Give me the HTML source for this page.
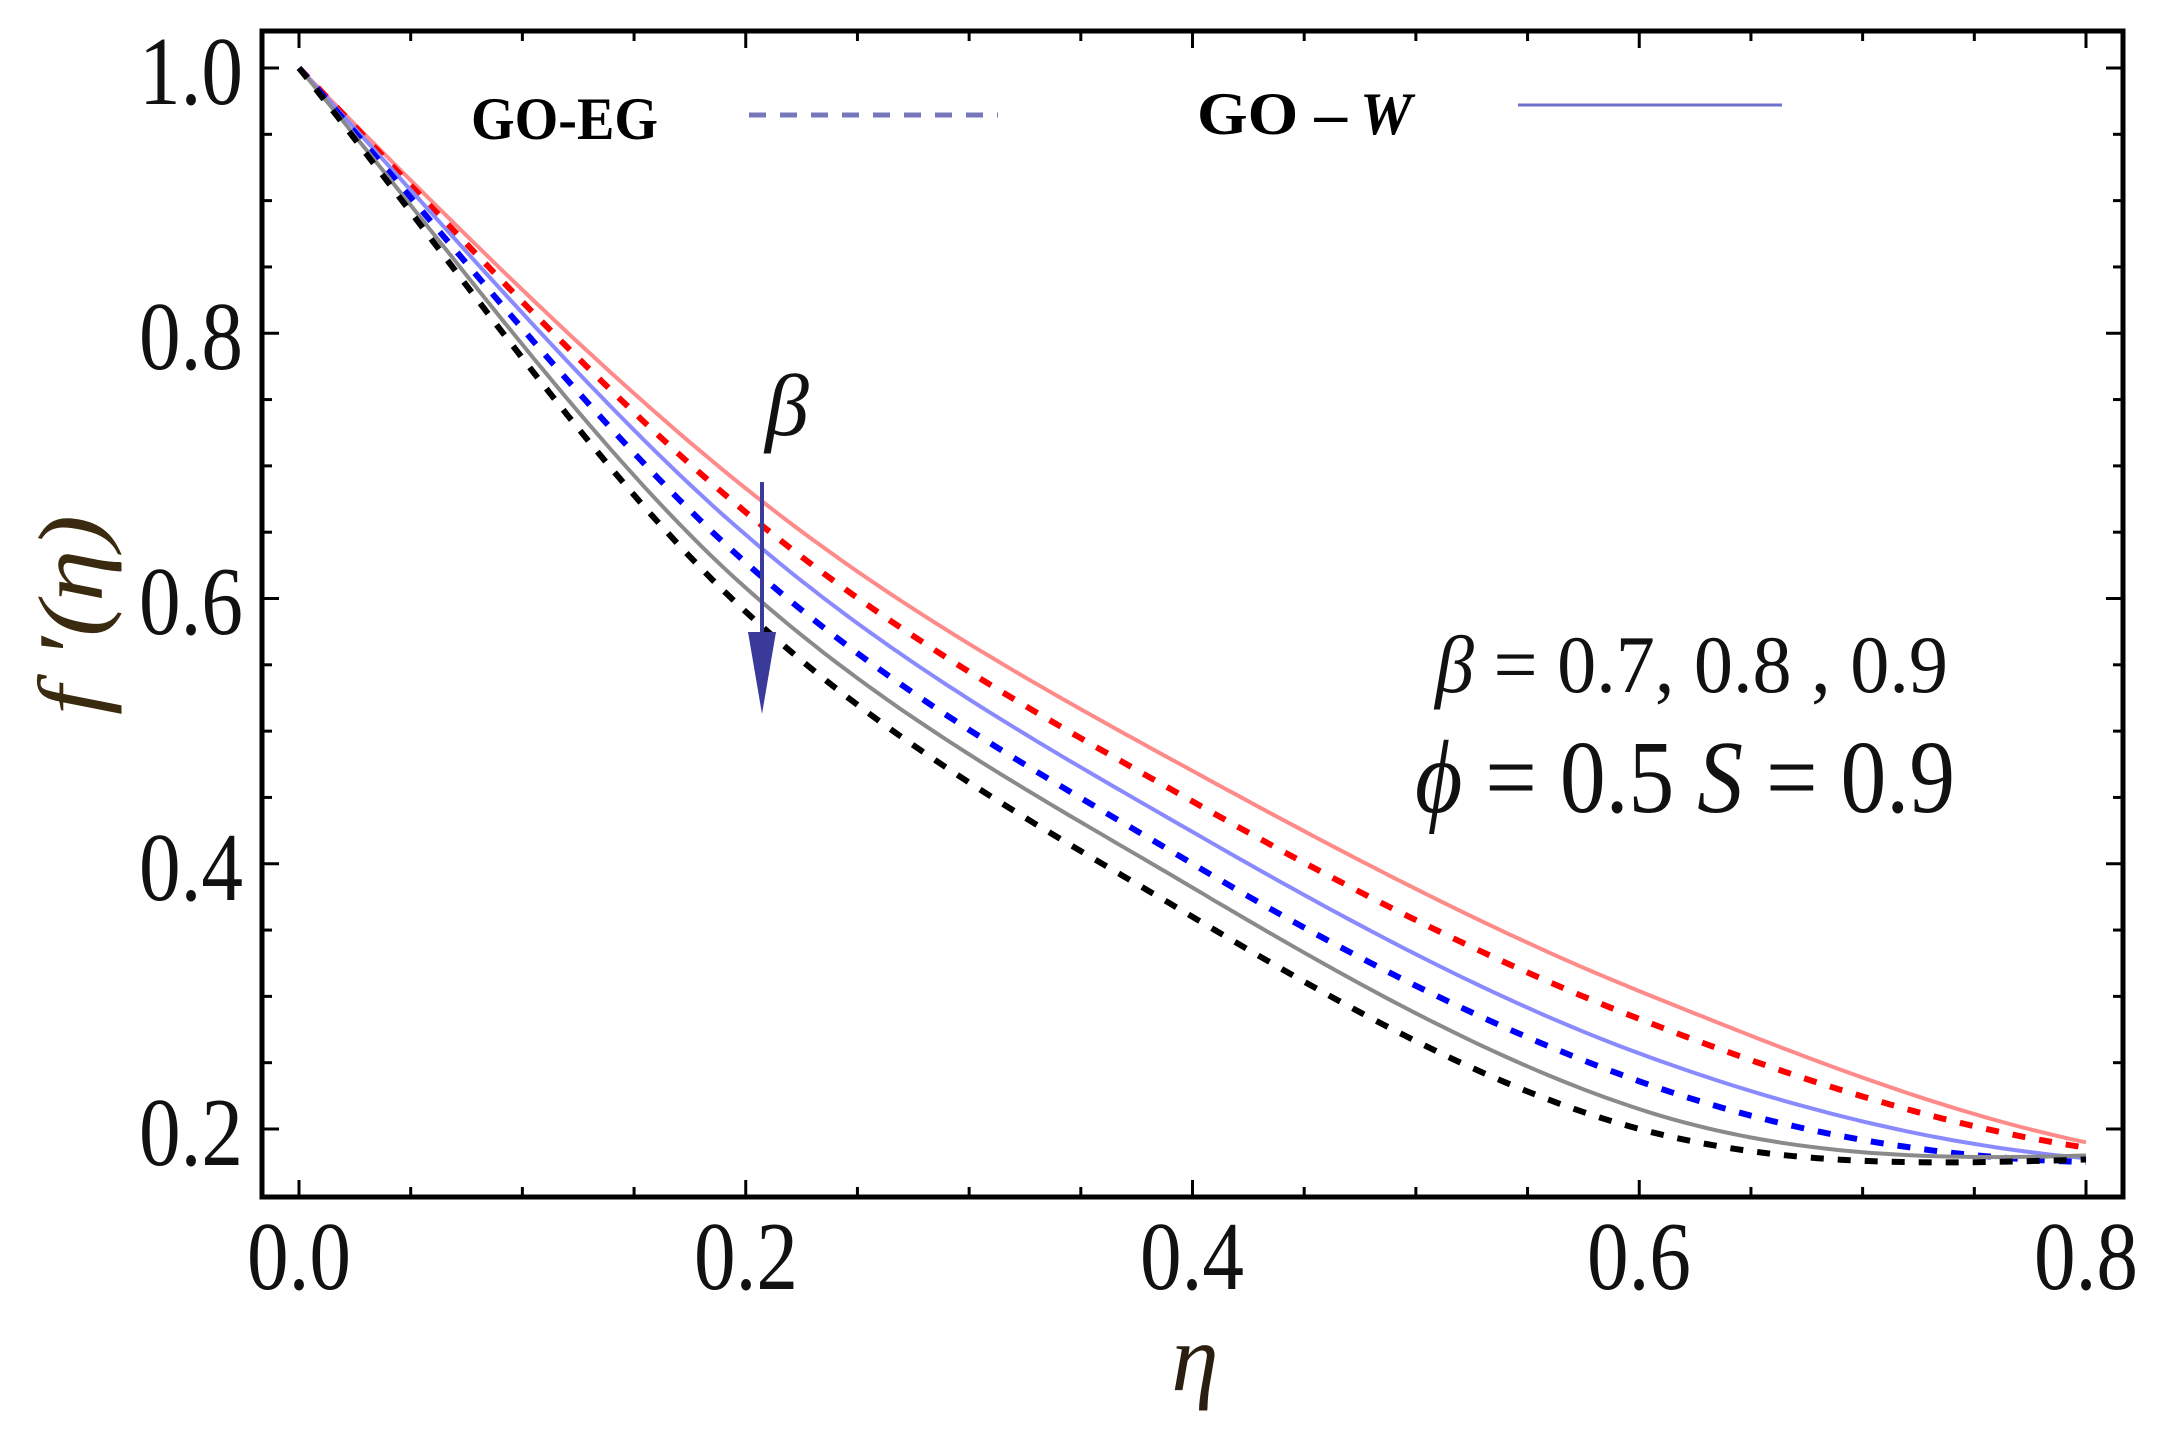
<!DOCTYPE html>
<html><head><meta charset="utf-8"><style>
html,body{margin:0;padding:0;background:#fff;}
svg{display:block;}
text{font-family:"Liberation Serif",serif;}
</style></head><body>
<svg id="s" width="2163" height="1447" viewBox="0 0 2163 1447" xmlns="http://www.w3.org/2000/svg">
<rect x="0" y="0" width="2163" height="1447" fill="#fff"/>
<g id="curves" fill="none"></g>
<g id="ticks" stroke="#000" stroke-width="3"></g>
<rect x="262" y="31" width="1861" height="1166" fill="none" stroke="#000" stroke-width="5"/>
<g font-size="98" fill="#111" text-anchor="end">
<text x="243" y="104" textLength="104" lengthAdjust="spacingAndGlyphs">1.0</text>
<text x="243" y="369" textLength="104" lengthAdjust="spacingAndGlyphs">0.8</text>
<text x="243" y="634" textLength="104" lengthAdjust="spacingAndGlyphs">0.6</text>
<text x="243" y="900" textLength="104" lengthAdjust="spacingAndGlyphs">0.4</text>
<text x="243" y="1165" textLength="104" lengthAdjust="spacingAndGlyphs">0.2</text>
</g>
<g font-size="98" fill="#111" text-anchor="middle">
<text x="299" y="1289" textLength="104" lengthAdjust="spacingAndGlyphs">0.0</text>
<text x="746" y="1289" textLength="104" lengthAdjust="spacingAndGlyphs">0.2</text>
<text x="1192" y="1289" textLength="104" lengthAdjust="spacingAndGlyphs">0.4</text>
<text x="1639" y="1289" textLength="104" lengthAdjust="spacingAndGlyphs">0.6</text>
<text x="2086" y="1289" textLength="104" lengthAdjust="spacingAndGlyphs">0.8</text>
</g>
<text x="1195" y="1390" font-size="95" font-style="italic" fill="#2a1f10" text-anchor="middle">η</text>
<text transform="translate(102,615) rotate(-90)" font-size="92" font-style="italic" fill="#3a2a10" text-anchor="middle" textLength="200" lengthAdjust="spacingAndGlyphs">f ′(η)</text>
<text x="471" y="139" font-size="60" font-weight="bold" fill="#000" textLength="187" lengthAdjust="spacingAndGlyphs">GO-EG</text>
<line x1="749" y1="115" x2="998" y2="115" stroke="#7777bb" stroke-width="5" stroke-dasharray="17 14"/>
<text x="1197" y="134" font-size="60" font-weight="bold" fill="#000" textLength="150" lengthAdjust="spacingAndGlyphs">GO –</text>
<text x="1360" y="134" font-size="60" font-weight="bold" font-style="italic" fill="#000" textLength="52" lengthAdjust="spacingAndGlyphs">W</text>
<line x1="1518" y1="105" x2="1782" y2="105" stroke="#7070cc" stroke-width="3"/>
<text x="765" y="435" font-size="88" font-style="italic" fill="#111">β</text>
<line x1="762" y1="482" x2="762" y2="640" stroke="#3a3a9a" stroke-width="4"/>
<polygon points="748,632 776,632 762,714" fill="#3a3a9a"/>
<text x="1435" y="692" font-size="82" fill="#111" textLength="513" lengthAdjust="spacingAndGlyphs"><tspan font-style="italic">β</tspan> = 0.7, 0.8 , 0.9</text>
<text x="1415" y="812" font-size="104" fill="#111" textLength="540" lengthAdjust="spacingAndGlyphs"><tspan font-style="italic">ϕ</tspan> = 0.5 <tspan font-style="italic">S</tspan> = 0.9</text>
</svg>
<script>
(function(){
function X(e){return 299+e*2233.75;}
function Y(v){return 68+(1-v)*1326.25;}
var t=document.getElementById('ticks'),h='';
for(var i=0;i<=16;i++){var x=X(i*0.05),L=(i%4==0)?17:10;
h+='<line x1="'+x+'" y1="1197" x2="'+x+'" y2="'+(1197-L)+'"/>';
h+='<line x1="'+x+'" y1="31" x2="'+x+'" y2="'+(31+L)+'"/>';}
for(var j=0;j<=17;j++){var v=1-j*0.05,y=Y(v),L2=(j%4==0)?17:10;if(y>1195)continue;
h+='<line x1="262" y1="'+y+'" x2="'+(262+L2)+'" y2="'+y+'"/>';
h+='<line x1="2123" y1="'+y+'" x2="'+(2123-L2)+'" y2="'+y+'"/>';}
t.innerHTML=h;
var H=0.2;
function herm(ys,ms,e){var i=Math.min(Math.floor(e/H),3),u=(e-i*H)/H;
var u2=u*u,u3=u2*u;
return (2*u3-3*u2+1)*ys[i]+(u3-2*u2+u)*H*ms[i]+(-2*u3+3*u2)*ys[i+1]+(u3-u2)*H*ms[i+1];}
var series=[
 {ys:[1,.683,.470,.304,.190],ms:[-1.7,-1.35,-0.92,-0.68,-0.35],c:'#ff8a8a',w:4,d:''},
 {ys:[1,.665,.447,.283,.186],ms:[-1.75,-1.4,-0.95,-0.65,-0.25],c:'#ff0000',w:6,d:'13 14'},
 {ys:[1,.648,.424,.257,.178],ms:[-1.8,-1.45,-0.97,-0.62,-0.15],c:'#8a8aff',w:4,d:''},
 {ys:[1,.627,.400,.236,.175],ms:[-1.9,-1.5,-1.0,-0.6,-0.05],c:'#0000ff',w:6,d:'13 14'},
 {ys:[1,.608,.382,.215,.180],ms:[-2.0,-1.5,-1.0,-0.55,0.05],c:'#8a8a8a',w:4,d:''},
 {ys:[1,.590,.360,.200,.177],ms:[-2.1,-1.55,-1.0,-0.45,0.05],c:'#000000',w:6,d:'13 14'}
];
var g=document.getElementById('curves'),out='';
series.forEach(function(s){var p='';for(var k=0;k<=160;k++){var e=k*0.005;p+=(k?'L':'M')+X(e).toFixed(1)+' '+Y(herm(s.ys,s.ms,e)).toFixed(1);}
out+='<path d="'+p+'" stroke="'+s.c+'" stroke-width="'+s.w+'"'+(s.d?' stroke-dasharray="'+s.d+'"':'')+'/>';});
g.innerHTML=out;
})();
</script>
</body></html>
